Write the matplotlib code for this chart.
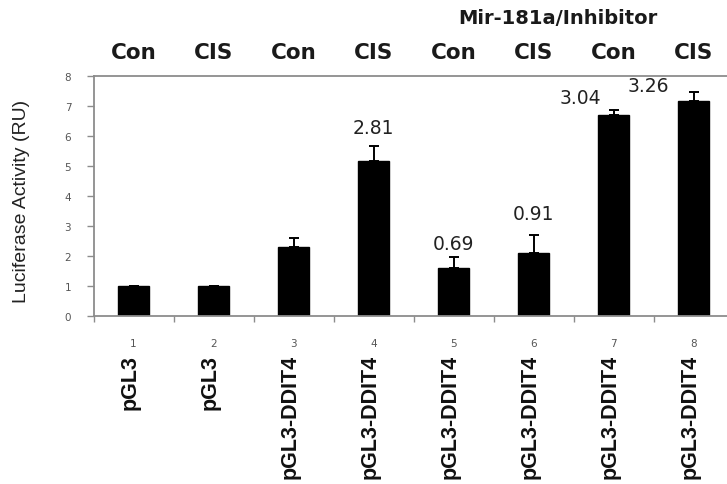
"""Luciferase activity bar chart (pGL3 / pGL3-DDIT4)."""

import numpy as np
import matplotlib
matplotlib.use("Agg")
import matplotlib.pyplot as plt
import matplotlib.transforms as mtransforms

# data
lanes = ["1", "2", "3", "4", "5", "6", "7", "8"]
constructs = ["pGL3", "pGL3", "pGL3-DDIT4", "pGL3-DDIT4",
              "pGL3-DDIT4", "pGL3-DDIT4", "pGL3-DDIT4", "pGL3-DDIT4"]
treatments = ["Con", "CIS", "Con", "CIS", "Con", "CIS", "Con", "CIS"]
activity = [1.0, 1.0, 2.29, 5.18, 1.59, 2.09, 6.71, 7.18]
errors = [0.0, 0.0, 0.30, 0.50, 0.37, 0.60, 0.17, 0.29]
# fold labels: (lane index, text)
fold_lanes = [3, 4, 5, 6, 7]
fold_labels = ["2.81", "0.69", "0.91", "3.04", "3.26"]
group_title = "Mir-181a/Inhibitor"
y_ticks = [0, 1, 2, 3, 4, 5, 6, 7, 8]

W, H = 727, 485
fig = plt.figure(figsize=(W / 100, H / 100), dpi=100)
ax = fig.add_axes([93.5 / W, 168 / H, 640 / W, 240 / H])

x = np.arange(len(lanes))
gray = "#8c8c8c"

ax.bar(x, activity, width=0.39, color="black", edgecolor="black", zorder=2)
upper = [[0] * len(errors), errors]
ax.errorbar(x, activity, yerr=upper, fmt="none", ecolor="black",
            elinewidth=1.4, capsize=3.6, capthick=1.4, zorder=3)

ax.set_xlim(-0.5, len(lanes) - 0.5)
ax.set_ylim(0, 8)

for side in ["left", "bottom", "top", "right"]:
    ax.spines[side].set_color(gray)
    ax.spines[side].set_linewidth(1.3)

ax.set_yticks(y_ticks)
ax.set_yticklabels([str(t) for t in y_ticks], fontsize=7.5, color="#555555")
ax.tick_params(axis="y", length=5, color=gray, width=1, pad=11)

ax.set_xticks(x)
ax.set_xticklabels(lanes, fontsize=7.5, color="#555555")
ax.set_xticks(np.arange(len(lanes) + 1) - 0.5, minor=True)
ax.tick_params(axis="x", which="major", length=0, pad=16)
ax.tick_params(axis="x", which="minor", length=4, color=gray, width=1)

# fold-change labels above bars
label_dx = {3: 0.0, 4: 0.0, 5: 0.0, 6: -0.42, 7: -0.57}
label_dy = {3: 0.59, 4: 0.47, 5: 0.74, 6: 0.39, 7: 0.20}
for lane, text in zip(fold_lanes, fold_labels):
    top = activity[lane] + errors[lane]
    ax.text(lane + label_dx[lane], top + label_dy[lane], text,
            ha="center", va="center", fontsize=13.5, color="#222222",
            family="DejaVu Sans", zorder=4)

# treatment labels above the plot
top_tf = mtransforms.blended_transform_factory(ax.transData, fig.transFigure)
for xi, t in zip(x, treatments):
    ax.text(xi, 1 - 53 / H, t, transform=top_tf, ha="center", va="center",
            fontsize=15.5, fontweight="bold", family="DejaVu Sans",
            color="#1a1a1a", clip_on=False)
ax.text(5.31, 1 - 18 / H, group_title, transform=top_tf,
        ha="center", va="center", fontsize=14, fontweight="bold",
        family="DejaVu Sans", color="#1a1a1a", clip_on=False)

# construct labels below the lane numbers
for xi, c in zip(x, constructs):
    ax.text(xi - 0.04, 1 - 355 / H, c, transform=top_tf, rotation=90,
            ha="center", va="top", fontsize=15.5, fontweight="bold",
            family="Liberation Sans", color="#111111", clip_on=False)

fig.text(22 / W, 1 - 201 / H, "Luciferase Activity (RU)", rotation=90,
         ha="center", va="center", fontsize=14, family="Liberation Sans",
         color="#222222")

fig.savefig("out.png", dpi=100)
